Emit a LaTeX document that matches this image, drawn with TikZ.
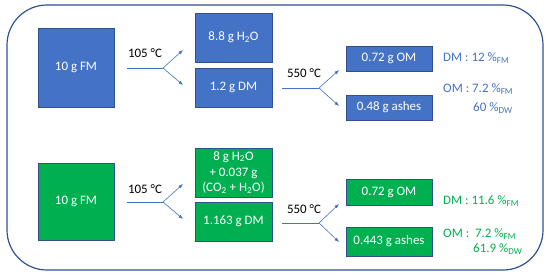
\documentclass[tikz,border=0pt]{standalone}
\usepackage{fontspec}
\setmainfont{Carlito}
\usetikzlibrary{arrows.meta}
\definecolor{obl}{HTML}{4472C4}
\definecolor{obd}{HTML}{2F528F}
\definecolor{ogr}{HTML}{00B050}
\tikzset{
  box/.style={draw=obd, line width=0.8pt, text=white, inner sep=0pt, align=center, font=\fontsize{13}{16}\selectfont},
  bluebox/.style={box, fill=obl},
  greenbox/.style={box, fill=ogr},
  lbl/.style={inner sep=0pt, font=\fontsize{13}{16}\selectfont},
  flow/.style={draw=obl, line width=0.6pt},
  flowarr/.style={flow, -{Latex[length=4.5pt,width=3.5pt]}},
}
\begin{document}
\begin{tikzpicture}[x=1bp,y=-1bp]
\useasboundingbox (0,0) rectangle (550,276);
\draw[draw=obd, line width=1.2pt, rounded corners=40bp] (7,5) rectangle (543,270);

% ---- top (blue) ----
\node[bluebox, minimum width=76bp, minimum height=79bp] (fm1) at (76,67.5) {10 g FM};
\node[bluebox, minimum width=77bp, minimum height=49bp] (w1) at (233.5,37.5) {8.8 g H\textsubscript{2}O};
\node[bluebox, minimum width=77bp, minimum height=39bp] (dm1) at (233.5,87.5) {1.2 g DM};
\node[lbl] (t1) at (145,53) {105 °C};
\coordinate (s1) at (127,68);
\coordinate (j1) at (163,68);
\coordinate (a1) at (183,50);
\coordinate (b1) at (183,85);
\draw[flow] (s1) -- (j1);
\draw[flowarr] (j1) -- (a1);
\draw[flowarr] (j1) -- (b1);

\node[bluebox, minimum width=86bp, minimum height=25bp] (om1) at (389,58.5) {0.72 g OM};
\node[bluebox, minimum width=86bp, minimum height=25bp] (ash1) at (389,107.5) {0.48 g ashes};
\node[lbl] (t2) at (304,73) {550 °C};
\coordinate (s2) at (282,88);
\coordinate (j2) at (319,88);
\coordinate (a2) at (339,70);
\coordinate (b2) at (339,106);
\draw[flow] (s2) -- (j2);
\draw[flowarr] (j2) -- (a2);
\draw[flowarr] (j2) -- (b2);

\node[lbl, text=obl, anchor=west] (r1) at (443,58) {DM : 12 \%\textsubscript{FM}};
\node[lbl, text=obl, anchor=west] (r2) at (443,89) {OM : 7.2 \%\textsubscript{FM}};
\node[lbl, text=obl, anchor=west] (r3) at (473,108) {60 \%\textsubscript{DW}};

% ---- bottom (green) ----
\node[greenbox, minimum width=76bp, minimum height=77bp] (fm2) at (76,201.5) {10 g FM};
\node[greenbox, minimum width=77bp, minimum height=49bp] (w2) at (233.5,172.5) {8 g H\textsubscript{2}O\\+ 0.037 g\\(CO\textsubscript{2} + H\textsubscript{2}O)};
\node[greenbox, minimum width=77bp, minimum height=39bp] (dm2) at (233.5,221.5) {1.163 g DM};
\node[lbl] (t3) at (145,189) {105 °C};
\coordinate (s3) at (127,202);
\coordinate (j3) at (163,202);
\coordinate (a3) at (183,184);
\coordinate (b3) at (183,219);
\draw[flow] (s3) -- (j3);
\draw[flowarr] (j3) -- (a3);
\draw[flowarr] (j3) -- (b3);

\node[greenbox, minimum width=86bp, minimum height=26bp] (om2) at (389,192) {0.72 g OM};
\node[greenbox, minimum width=86bp, minimum height=29bp] (ash2) at (389,241.5) {0.443 g ashes};
\node[lbl] (t4) at (304,209) {550 °C};
\coordinate (s4) at (282,223);
\coordinate (j4) at (319,223);
\coordinate (a4) at (339,204);
\coordinate (b4) at (339,242);
\draw[flow] (s4) -- (j4);
\draw[flowarr] (j4) -- (a4);
\draw[flowarr] (j4) -- (b4);

\node[lbl, text=ogr, anchor=west] (r4) at (443,201) {DM : 11.6 \%\textsubscript{FM}};
\node[lbl, text=ogr, anchor=west] (r5) at (443,234) {OM :\ \ 7.2 \%\textsubscript{FM}};
\node[lbl, text=ogr, anchor=west] (r6) at (473,249) {61.9 \%\textsubscript{DW}};
\end{tikzpicture}
\end{document}
